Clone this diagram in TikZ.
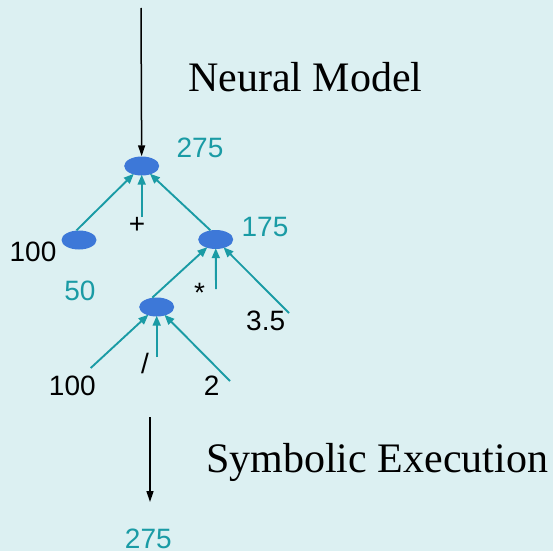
\documentclass[tikz,border=0pt]{standalone}
\usepackage{fontspec}
\setmainfont{Liberation Serif}
\setsansfont{Liberation Sans}
\usetikzlibrary{arrows.meta,shapes.geometric}
\definecolor{bgc}{HTML}{DCF0F2}
\definecolor{nodeblue}{HTML}{3D78D8}
\definecolor{tealc}{HTML}{1A9BA5}
\tikzset{
  opnode/.style={ellipse, fill=nodeblue, minimum width=35pt, minimum height=19pt, inner sep=0pt},
  edge/.style={draw=tealc, line width=1.9pt, -{Triangle[length=10pt,width=8pt]}, shorten >=-1pt},
  flow/.style={draw=black, line width=1.5pt, -{Triangle[length=11pt,width=7pt]}},
  val/.style={font=\sffamily\fontsize{28}{28}\selectfont, text=tealc, inner sep=0pt},
  tok/.style={font=\sffamily\fontsize{28}{28}\selectfont, text=black, inner sep=0pt},
  title/.style={font=\rmfamily\fontsize{42}{42}\selectfont, inner sep=0pt},
}
\begin{document}
\begin{tikzpicture}[x=1pt,y=-1pt]
\fill[bgc] (0,0) rectangle (553,551);
\useasboundingbox (0,0) rectangle (553,551);

% operator / value nodes
\node[opnode] (root) at (141.7,166) {};
\node[opnode] (left) at (79,240) {};
\node[opnode] (mid) at (215.7,239.5) {};
\node[opnode] (bot) at (156.7,307) {};

% labels
\node[val] (v275) at (200,148) {275};
\node[val] (v175) at (265,227) {175};
\node[val] (v50) at (80,291) {50};
\node[val] (vout) at (148.3,539) {275};
\node[tok] (n100a) at (33,252) {100};
\node[tok] (plus) at (137,225) {+};
\node[tok] (times) at (199.5,293) {*};
\node[tok] (n35) at (265.7,321) {3.5};
\node[tok] (n100b) at (72.3,386) {100};
\node[tok] (slash) at (145,363) {/};
\node[tok] (n2) at (211.7,386) {2};
\node[title, anchor=west] (nm) at (188,77) {Neural Model};
\node[title, anchor=west] (se) at (206,462) {Symbolic Execution};

% tails of connectors
\coordinate (topin) at (141,8);
\coordinate (tplus) at (141.7,217);
\coordinate (ttimes) at (216,289);
\coordinate (t35) at (289,313);
\coordinate (t100b) at (90.7,368);
\coordinate (tslash) at (156.7,357);
\coordinate (t2) at (230,381);
\coordinate (outtop) at (150,417);
\coordinate (outbot) at (150,502);

% flow arrows
\draw[flow] (topin) -- (root);
\draw[flow] (outtop) -- (outbot);

% tree edges
\draw[edge] (left.105) -- (root);
\draw[edge] (tplus) -- (root);
\draw[edge] (mid.120) -- (root);
\draw[edge] (bot.115) -- (mid);
\draw[edge] (ttimes) -- (mid);
\draw[edge] (t35) -- (mid);
\draw[edge] (t100b) -- (bot);
\draw[edge] (tslash) -- (bot);
\draw[edge] (t2) -- (bot);
\end{tikzpicture}
\end{document}
